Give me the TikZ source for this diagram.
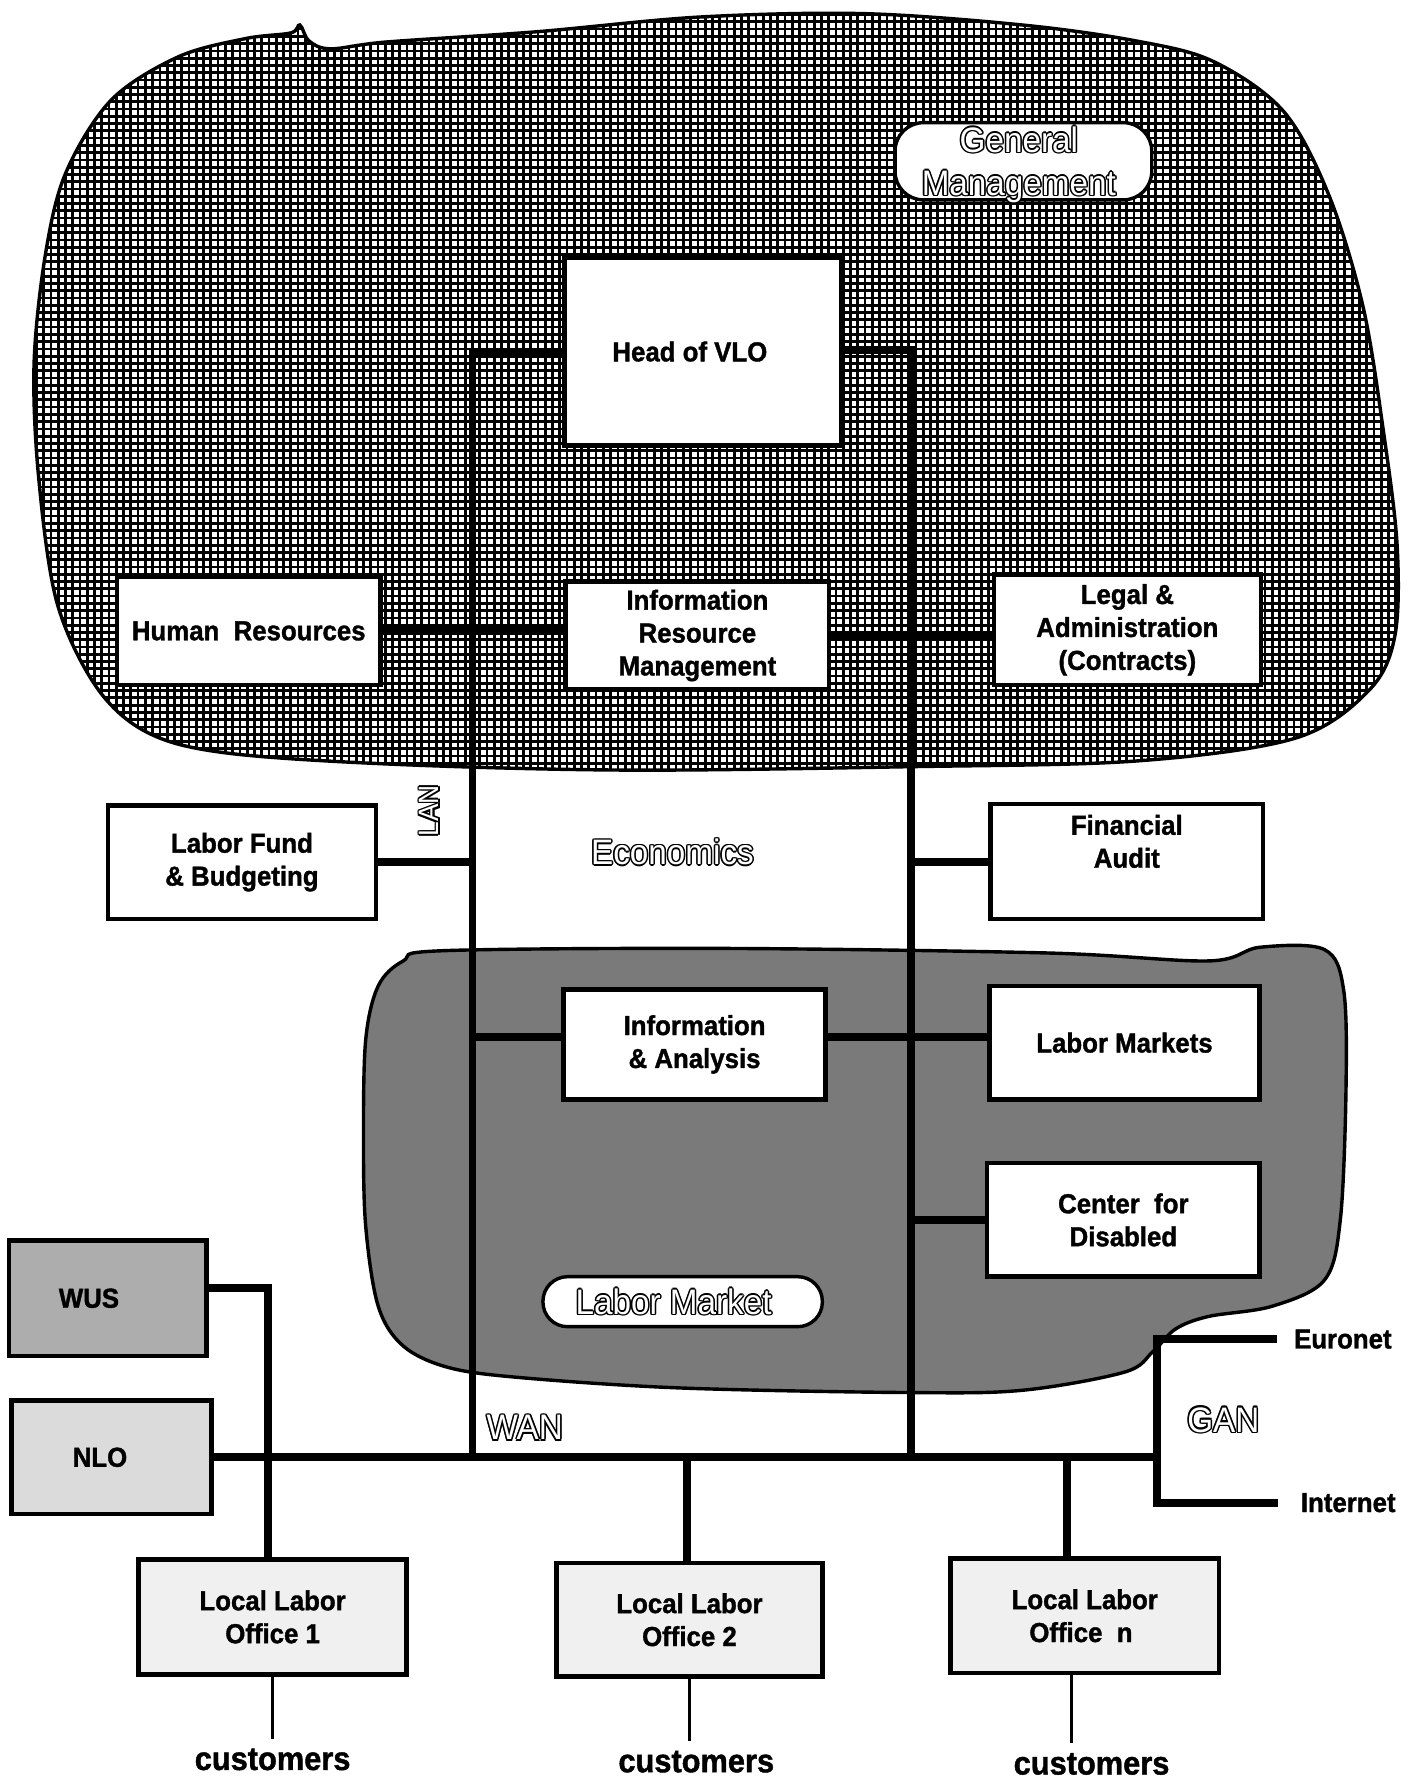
\documentclass[tikz,border=0pt]{standalone}
\usepackage{fontspec}
\setmainfont{Liberation Sans}[FakeStretch=0.94,BoldFeatures={FakeBold=1.3}]
\pgfdeclarelayer{blobs}
\pgfdeclarelayer{wires}
\pgfsetlayers{blobs,wires,main}

% outlined (hollow) lettering: black copies around a white core
\newcommand\hollowtxt[1]{{\setbox0\hbox{#1}%
  \rlap{\kern-0.8pt\copy0}\rlap{\kern0.8pt\copy0}%
  \rlap{\raise0.8pt\copy0}\rlap{\raise-0.8pt\copy0}%
  \rlap{\kern0.57pt\raise0.57pt\copy0}\rlap{\kern-0.57pt\raise0.57pt\copy0}%
  \rlap{\kern0.57pt\raise-0.57pt\copy0}\rlap{\kern-0.57pt\raise-0.57pt\copy0}%
  \textcolor{white}{#1}}}

\begin{document}
\begin{tikzpicture}[x=0.6pt,y=-0.6pt,
  conn/.style={line width=4.2pt,line join=miter,line cap=butt},
  thinwire/.style={line width=1.3pt},
  unit/.style={draw,line width=2.4pt,fill=white,inner sep=0pt,align=center,
    font=\fontsize{14.5}{17.4}\selectfont\bfseries},
  tag/.style={draw,line width=1.8pt,fill=white,inner sep=0pt},
  hol/.style={inner sep=0pt,align=center,font=\fontsize{18.7}{22.8}\selectfont},
  plain/.style={inner sep=0pt,font=\fontsize{14.5}{17.4}\selectfont\bfseries},
  cust/.style={inner sep=5pt,font=\fontsize{17.3}{20}\selectfont\bfseries}]
\useasboundingbox (0,0) rectangle (1240,1568);

% ---------- organisational units ----------
\node[unit,minimum width=146.4pt,minimum height=99pt] (head) at (619,309.5) {Head of VLO\hspace*{14pt}};
\node[unit,minimum width=139.2pt,minimum height=57pt] (hr) at (219,555.5) {Human\ \ Resources};
\node[unit,minimum width=139.2pt,minimum height=57pt] (irm) at (614,559.5) {Information\\Resource\\Management};
\node[unit,minimum width=141pt,minimum height=58.2pt] (legal) at (992.5,554.5) {Legal \&\\Administration\\(Contracts)};
\node[unit,minimum width=141.6pt,minimum height=60pt] (lf) at (213,759) {Labor Fund\\\& Budgeting};
\node[unit,minimum width=144pt,minimum height=60.6pt] (fa) at (992,758.5) {Financial\\Audit\\[4pt]};
\node[unit,minimum width=138.6pt,minimum height=58.2pt] (ia) at (611.5,919.5) {Information\\\& Analysis};
\node[unit,minimum width=142.8pt,minimum height=60pt] (lmk) at (990,918) {Labor Markets};
\node[unit,minimum width=144pt,minimum height=60pt] (cd) at (989,1074) {Center\ \ for\\Disabled};
\node[unit,fill=black!32,minimum width=104.4pt,minimum height=61.2pt] (wus) at (95,1143) {WUS\hspace*{20pt}};
\node[unit,fill=black!14,minimum width=105.6pt,minimum height=60pt] (nlo) at (98,1283) {NLO\hspace*{12pt}};
\node[unit,fill=black!6,minimum width=141.6pt,minimum height=60.6pt] (llo1) at (240,1423.5) {Local Labor\\Office 1};
\node[unit,fill=black!6,minimum width=140.4pt,minimum height=60pt] (llo2) at (607,1426) {Local Labor\\Office 2};
\node[unit,fill=black!6,minimum width=141.6pt,minimum height=60.6pt] (llon) at (955,1422.5) {Local Labor\\Office\ \ n\hspace*{4pt}};

% ---------- area labels ----------
\node[tag,rounded corners=15pt,minimum width=135.6pt,minimum height=40.8pt] (gmtag) at (901,142) {};
\node[hol] (gm) at (897,145) {\hollowtxt{General}\\\hollowtxt{Management}};
\node[tag,rounded corners=13pt,minimum width=147.6pt,minimum height=26.4pt] (lmtag) at (601,1146) {};
\node[hol] (lm) at (593,1146) {\hollowtxt{Labor Market}};
\node[hol] (econ) at (592,750) {\hollowtxt{Economics}};
\node[hol] (wan) at (462,1257) {\hollowtxt{WAN}};
\node[hol] (gan) at (1077,1250) {\hollowtxt{GAN}};
\node[hol,font=\fontsize{14.8}{17}\selectfont,rotate=90] (lan) at (378,714) {\hollowtxt{LAN}};

\node[plain,anchor=west] (euronet) at (1139,1179) {Euronet};
\node[plain,anchor=west] (internet) at (1145,1323) {Internet};
\node[cust] (cust1) at (240,1549) {customers};
\node[cust] (cust2) at (613,1551) {customers};
\node[cust] (custn) at (961,1553) {customers};

% ---------- network junctions ----------
\coordinate (lanL) at (416,312);
\coordinate (lanR) at (802,308);
\coordinate (wanE) at (1019,1283);
\coordinate (ganN) at (1019,1179);
\coordinate (ganS) at (1019,1323);
\coordinate (wusC) at (236,1134);
\coordinate (tap2) at (605,1283);
\coordinate (tapN) at (939,1283);

% ---------- shaded areas ----------
\begin{pgfonlayer}{blobs}
  % General Management: cross-hatched area
  \def\gmblob{plot[smooth cycle,tension=0.55] coordinates {
    (98,88) (157,50) (216,34) (256,29) (264,22) (272,36) (291,43) (340,37)
    (472,28) (616,15) (760,12) (900,22) (1000,36) (1068,54) (1130,98)
    (1170,172) (1200,270) (1218,380) (1230,480) (1228,560) (1205,608)
    (1140,650) (1000,670) (800,675) (554,678) (350,673) (200,663)
    (130,645) (85,605) (50,530) (34,420) (30,320) (40,224) (58,152)}}
  \begin{scope}
    \clip \gmblob;
    \fill[white] (0,0) rectangle (1240,700);
    \foreach \gx in {0,6.4,...,1240} \draw[line width=1.45pt] (\gx,0) -- (\gx,700);
    \foreach \gy in {0,6.4,...,700} \draw[line width=1.45pt] (0,\gy) -- (1240,\gy);
  \end{scope}
  \draw[line width=1.8pt] \gmblob;
  % Labor Market: grey area
  \draw[line width=1.8pt,fill=black!52] plot[smooth cycle,tension=0.55] coordinates {
    (390,837) (639,835) (922,839) (1064,846) (1109,834) (1166,836)
    (1183,872) (1185,960) (1180,1074) (1166,1127) (1120,1150) (1064,1159)
    (1035,1170) (1015,1190) (990,1208) (900,1224) (800,1226) (600,1222)
    (460,1213) (395,1204) (355,1185) (333,1150) (322,1080) (320,1000)
    (322,915) (333,868) (355,846)};
\end{pgfonlayer}

% ---------- connections ----------
\begin{pgfonlayer}{wires}
  \draw[conn] (head.west |- lanL) -- (lanL) -- (lanL |- wanE);
  \draw[conn] (head.east |- lanR) -- (lanR) -- (lanR |- wanE);
  \draw[conn] (hr.east) -- (hr.east -| irm.west);
  \draw[conn] (irm.east) -- (irm.east -| legal.west);
  \draw[conn] (lf.east) -- (lf.east -| lanL);
  \draw[conn] (fa.west) -- (fa.west -| lanR);
  \draw[conn] ([yshift=4pt]ia.west -| lanL) -- ([yshift=4pt]ia.west);
  \draw[conn] ([yshift=4pt]ia.east) -- ([yshift=4pt]ia.east -| lmk.west);
  \draw[conn] (cd.west -| lanR) -- (cd.west);
  \draw[conn] (nlo.east) -- (wanE);
  \draw[conn] (wus.east |- wusC) -- (wusC) -- (wusC |- llo1.north);
  \draw[conn] (tap2) -- (tap2 |- llo2.north);
  \draw[conn] (tapN) -- (tapN |- llon.north);
  \draw[conn] ([xshift=-9pt]euronet.west) -- (ganN) -- (ganS) -- ([xshift=-12pt]internet.west);
  \draw[thinwire] (llo1.south) -- (llo1.south |- cust1.north);
  \draw[thinwire] (llo2.south) -- (llo2.south |- cust2.north);
  \draw[thinwire] ([xshift=-7pt]llon.south) -- ([xshift=-7pt]llon.south |- custn.north);
\end{pgfonlayer}
\end{tikzpicture}
\end{document}
